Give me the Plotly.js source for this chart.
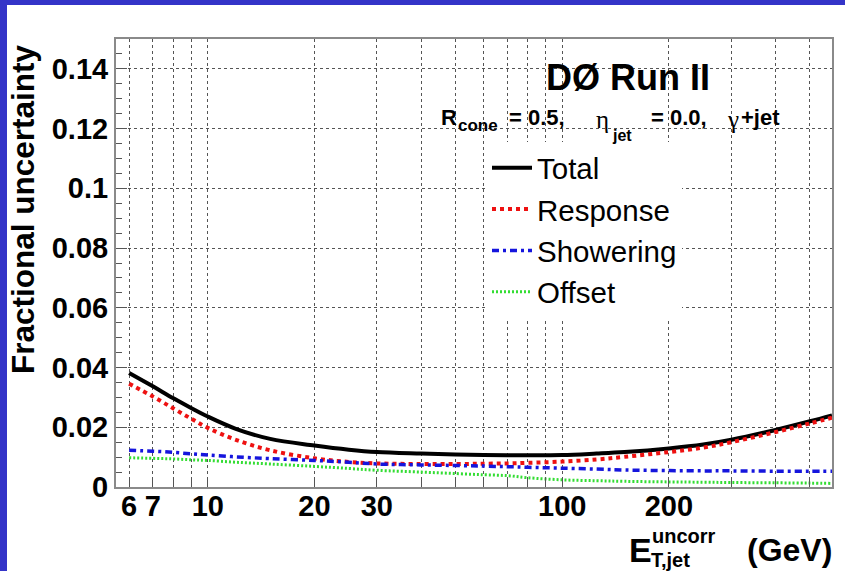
<!DOCTYPE html>
<html>
<head>
<meta charset="utf-8">
<script src="https://cdn.plot.ly/plotly-3.0.1.min.js"></script>
<style>
  html, body { margin: 0; padding: 0; background: #ffffff; }
  #frame { position: relative; width: 845px; height: 571px; background: #ffffff; overflow: hidden; }
  #bandTop { position: absolute; left: 0; top: 0; width: 845px; height: 5px; background: #3434c8; z-index: 2; }
  #bandLeft { position: absolute; left: 0; top: 0; width: 7px; height: 571px; background: #3434c8; z-index: 2; }
  #plot { position: absolute; left: 0px; top: 0px; width: 845px; height: 571px; }
</style>
</head>
<body>
<div id="frame">
  <div id="plot"></div>
  <div id="bandTop"></div>
  <div id="bandLeft"></div>
</div>
<script>
// ---- data ----
const energy = [6, 7, 8, 9, 10, 12, 15, 20, 25, 30, 40, 50, 60, 70, 80, 100, 125, 150, 200, 250, 300, 400, 500, 577];
const total = [0.0382, 0.0337, 0.0297, 0.0264, 0.0236, 0.0195, 0.0161, 0.0139, 0.0125, 0.0117, 0.0112, 0.0109, 0.0107, 0.0106, 0.0106, 0.0107, 0.0112, 0.0117, 0.0129, 0.0142, 0.0158, 0.0191, 0.0220, 0.0240];
const response = [0.0346, 0.0303, 0.0263, 0.0228, 0.0198, 0.0158, 0.0123, 0.0096, 0.0084, 0.0079, 0.0077, 0.0077, 0.0078, 0.0079, 0.0081, 0.0085, 0.0092, 0.0101, 0.0117, 0.0132, 0.0150, 0.0184, 0.0213, 0.0232];
const showering = [0.0123, 0.0120, 0.0116, 0.0111, 0.0107, 0.0101, 0.0095, 0.0089, 0.0083, 0.0077, 0.0074, 0.0072, 0.0070, 0.0068, 0.0066, 0.0063, 0.0060, 0.0057, 0.0055, 0.0054, 0.0054, 0.0053, 0.0053, 0.0053];
const offset = [0.0098, 0.0096, 0.0094, 0.0091, 0.0089, 0.0083, 0.0077, 0.0069, 0.0062, 0.0056, 0.0050, 0.0045, 0.0041, 0.0038, 0.0031, 0.0024, 0.0021, 0.0019, 0.0017, 0.0016, 0.0015, 0.0014, 0.0013, 0.0012];
const seriesNames = ["Total", "Response", "Showering", "Offset"];

const xTickVals = [6, 7, 8, 9, 10, 20, 30, 40, 50, 60, 70, 80, 90, 100, 200, 300, 400, 500];
const xTickText = ["6", "7", "", "", "10", "20", "30", "", "", "", "", "", "", "100", "200", "", "", ""];
const yTickVals = [0, 0.02, 0.04, 0.06, 0.08, 0.1, 0.12, 0.14];
const yTickText = ["0", "0.02", "0.04", "0.06", "0.08", "0.1", "0.12", "0.14"];

// ---- layout helpers (pixel positions inside the 845x571 picture) ----
const PL = 116, PR = 832, PT = 39, PB = 487;
const px = v => (v - PL) / (PR - PL);
const py = v => (PB - v) / (PB - PT);
const F = "Liberation Sans, Arial, Helvetica, sans-serif";
const FS = "Liberation Serif, DejaVu Serif, serif";

function note(text, x, y, size, opts) {
  return Object.assign({
    xref: "paper", yref: "paper", x: px(x), y: py(y),
    xanchor: "left", yanchor: "middle", text: text, showarrow: false,
    font: { family: F, size: size, color: "#000000" }
  }, opts || {});
}

const traces = [
  { x: energy, y: total, name: seriesNames[0], mode: "lines",
    line: { color: "#000000", width: 4, shape: "spline", smoothing: 1 } },
  { x: energy, y: response, name: seriesNames[1], mode: "lines",
    line: { color: "#ee1111", width: 4, dash: "4px,4px", shape: "spline", smoothing: 1 } },
  { x: energy, y: showering, name: seriesNames[2], mode: "lines",
    line: { color: "#1515dd", width: 3.5, dash: "7px,4px,3px,4px", shape: "spline", smoothing: 1 } },
  { x: energy, y: offset, name: seriesNames[3], mode: "lines",
    line: { color: "#33dd33", width: 3, dash: "2px,2px", shape: "spline", smoothing: 1 } }
];

const layout = {
  width: 845, height: 571,
  margin: { l: PL, r: 845 - PR, t: PT, b: 571 - PB },
  paper_bgcolor: "#ffffff", plot_bgcolor: "#ffffff",
  showlegend: true,
  legend: {
    x: px(487), y: py(142), xanchor: "left", yanchor: "top",
    bgcolor: "#ffffff", borderwidth: 0,
    font: { family: F, size: 29.5, color: "#000000" },
    itemwidth: 40
  },
  xaxis: {
    type: "log", range: [Math.log10(5.51), Math.log10(577)],
    tickmode: "array", tickvals: xTickVals, ticktext: xTickText,
    tickfont: { family: F, size: 29, color: "#000000", weight: "bold" },
    ticklabelstandoff: -8,
    ticks: "inside", ticklen: 10, tickcolor: "#555555", tickwidth: 1,
    showgrid: true, gridcolor: "#555555", griddash: "dot", gridwidth: 1,
    showline: true, mirror: true, linecolor: "#8a8a8a", linewidth: 2,
    zeroline: false
  },
  yaxis: {
    range: [0, 0.15],
    tickmode: "array", tickvals: yTickVals, ticktext: yTickText,
    tickfont: { family: F, size: 29, color: "#000000", weight: "bold" },
    ticks: "inside", ticklen: 11, tickcolor: "#555555", tickwidth: 1,
    minor: { tickmode: "linear", tick0: 0, dtick: 0.005, ticks: "inside", ticklen: 6, tickcolor: "#555555", showgrid: false },
    showgrid: true, gridcolor: "#555555", griddash: "dot", gridwidth: 1,
    showline: true, mirror: true, linecolor: "#8a8a8a", linewidth: 2,
    zeroline: false
  },
  annotations: [
    note("<b>DØ Run II</b>", 628, 77, 36, { xanchor: "center" }),
    note("<b>R</b>", 439, 117, 22),
    note("<b>cone</b>", 456, 125, 17),
    note("<b>= 0.5,</b>", 507, 117, 22),
    note("η", 594, 119, 25, { font: { family: FS, size: 25, color: "#000000" } }),
    note("<b>jet</b>", 610, 136, 16),
    note("<b>= 0.0,</b>", 649, 117, 22),
    note("γ", 725, 119, 25, { font: { family: FS, size: 25, color: "#000000" } }),
    note("<b>+jet</b>", 739, 117, 22),
    note("<b>Fractional uncertainty</b>", 23, 209, 31.5, { xanchor: "center", textangle: -90 }),
    note("<b>E</b>", 640, 550, 34, { xanchor: "center" }),
    note("<b>uncorr</b>", 650, 536, 20),
    note("<b>T,jet</b>", 649, 560, 20),
    note("<b>(GeV)</b>", 789, 550, 32, { xanchor: "center" })
  ]
};

Plotly.newPlot("plot", traces, layout, { displayModeBar: false, staticPlot: true });
</script>
</body>
</html>
